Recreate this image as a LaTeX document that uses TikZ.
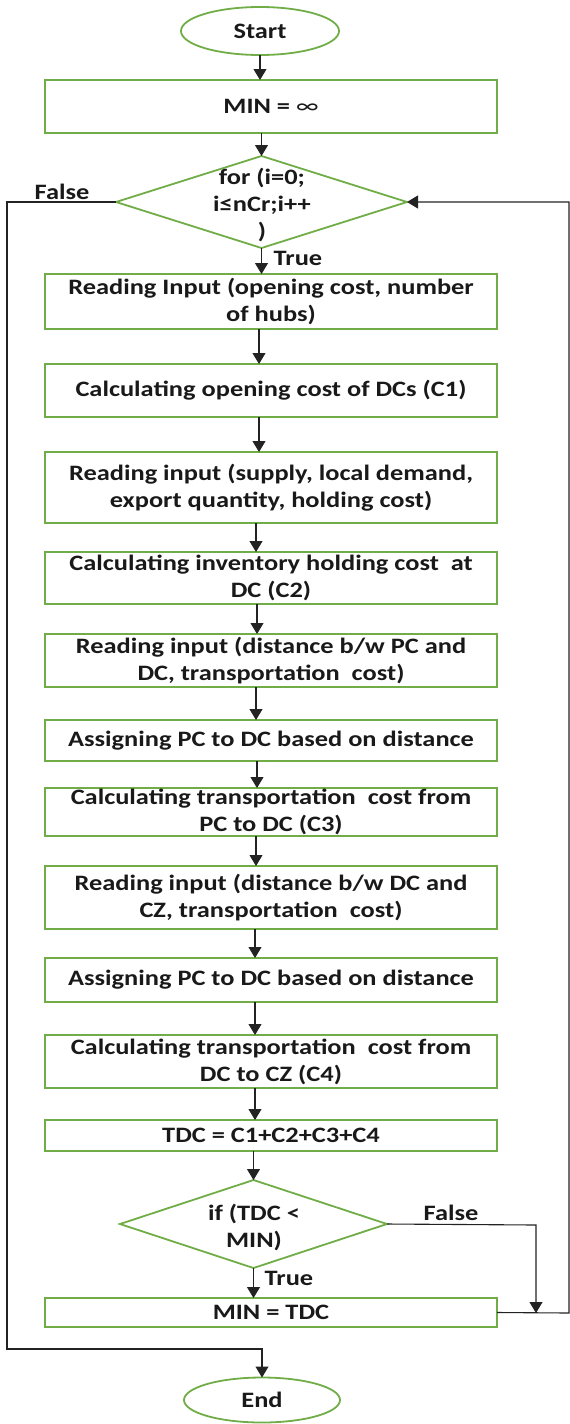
\documentclass[tikz,border=0pt]{standalone}
\usepackage{fontspec}
\setmainfont{Carlito}[FakeStretch=1.2]
\usetikzlibrary{shapes.geometric,arrows.meta}
\definecolor{boxgreen}{RGB}{112,173,71}
\definecolor{inkline}{RGB}{35,35,35}
\begin{document}
\begin{tikzpicture}[x=1pt,y=-1pt,
  every node/.style={font=\bfseries\fontsize{22}{27}\selectfont, text=black!90, inner sep=0pt, outer sep=0pt},
  procbox/.style={draw=boxgreen, line width=1.8pt, rectangle, minimum width=452pt, align=center},
  termbox/.style={draw=boxgreen, line width=1.8pt, ellipse},
  decbox/.style={draw=boxgreen, line width=1.8pt, diamond},
  flow/.style={draw=inkline, line width=1.1pt, -{Triangle[length=11pt,width=13pt]}},
  plain/.style={draw=inkline, line width=1.1pt}
]
\useasboundingbox (0,0) rectangle (570,1424);

% terminals
\node[termbox, minimum width=158pt, minimum height=48pt] (start) at (260,31) {Start};
\node[termbox, minimum width=156pt, minimum height=45pt] (end) at (262,1400) {End};

% initialisation
\node[procbox, minimum height=53pt] (minbox) at (271,106.5) {MIN = {\mdseries ∞}};

% loop head
\node[decbox, minimum width=291pt, minimum height=92pt] (for) at (261.5,202) {};
\node[align=center] (fortext) at (262,205) {for (i=0;\\i≤nCr;i++\\)};

% loop body
\node[procbox, minimum height=55pt] (readin) at (271,301.5) {Reading Input (opening cost, number\\of hubs)};
\node[procbox, minimum height=53pt] (cone) at (271,390.5) {Calculating opening cost of DCs (C1)};
\node[procbox, minimum height=71pt] (supply) at (271,487.5) {Reading input (supply, local demand,\\export quantity, holding cost)};
\node[procbox, minimum height=52pt] (ctwo) at (271,578) {Calculating inventory holding cost\ \ at\\DC (C2)};
\node[procbox, minimum height=53pt] (distpc) at (271,660.5) {Reading input (distance b/w PC and\\DC, transportation\ \ cost)};
\node[procbox, minimum height=41pt] (assignA) at (271,740.5) {Assigning PC to DC based on distance};
\node[procbox, minimum height=48pt] (cthree) at (271,812) {Calculating transportation\ \ cost from\\PC to DC (C3)};
\node[procbox, minimum height=63pt] (distcz) at (271,897.5) {Reading input (distance b/w DC and\\CZ, transportation\ \ cost)};
\node[procbox, minimum height=44pt] (assignB) at (271,980) {Assigning PC to DC based on distance};
\node[procbox, minimum height=53pt] (cfour) at (271,1061.5) {Calculating transportation\ \ cost from\\DC to CZ (C4)};
\node[procbox, minimum height=31pt] (tdc) at (271,1135.5) {TDC = C1+C2+C3+C4};

% comparison
\node[decbox, minimum width=267pt, minimum height=88pt] (ifd) at (253.5,1224) {};
\node[align=center] (iftext) at (254,1227) {if (TDC <\\MIN)};
\node[procbox, minimum height=29pt] (mintdc) at (271,1312.5) {MIN = TDC};

% branch labels
\node (forfalse) at (62,192) {False};
\node (fortrue) at (298,258) {True};
\node (iffalse) at (451,1213) {False};
\node (iftrue) at (289,1278) {True};

% turning points of the loops
\coordinate (leftrail) at (7,1349);
\coordinate (rightrail) at (569,1313);
\coordinate (iffalsecorner) at (536,1225);

% main sequence
\draw[flow] (start.south) -- (start.south |- minbox.north);
\draw[flow] (for.north |- minbox.south) -- (for.north);
\draw[flow] (for.south) -- (for.south |- readin.north);
\foreach \a/\b/\s in {readin/cone/-12, cone/supply/-12, supply/ctwo/-15,
  ctwo/distpc/-14, distpc/assignA/-15, assignA/cthree/-14, cthree/distcz/-15,
  distcz/assignB/-16, assignB/cfour/-16, cfour/tdc/-16}
  \draw[flow] ([xshift=\s pt]\a.south) -- ([xshift=\s pt]\b.north);
\draw[flow] (ifd.north |- tdc.south) -- (ifd.north);
\draw[flow] (ifd.south) -- (ifd.south |- mintdc.north);

% exit of the loop
\draw[flow] (for.west) -| (leftrail) -| (end.north);

% back edge of the loop
\draw[flow] (mintdc.east) -- (rightrail) |- (for.east);

% false branch of the comparison
\draw[flow] (ifd.east) -- (iffalsecorner) -- (iffalsecorner |- rightrail);
\end{tikzpicture}
\end{document}
